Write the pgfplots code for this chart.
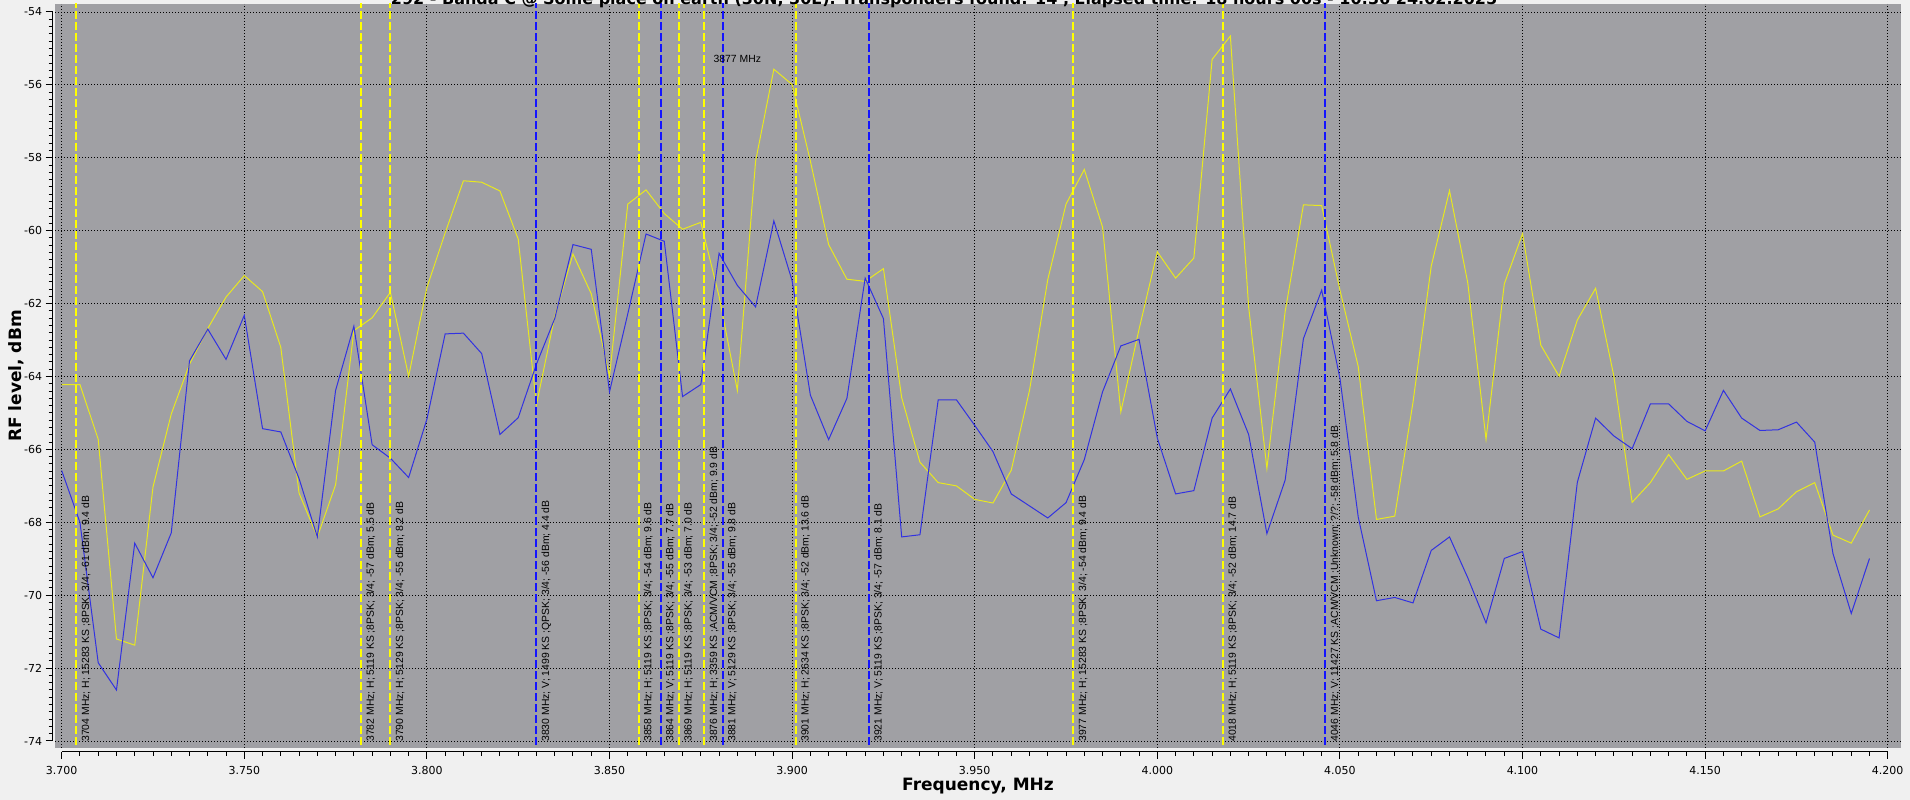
\documentclass[border=0pt]{standalone}
\usepackage{fontspec}
\setmainfont{Liberation Sans}
\newfontfamily\dejavu{DejaVu Sans}
\usepackage{pgfplots}
\pgfplotsset{compat=1.18}
\usepackage{pgfplotstable}
\definecolor{pagebg}{RGB}{240,240,240}
\definecolor{plotbg}{RGB}{160,160,164}
\definecolor{ydata}{RGB}{232,232,30}
\definecolor{bdata}{RGB}{50,50,225}
\definecolor{ymark}{RGB}{255,255,0}
\definecolor{bmark}{RGB}{20,20,255}

\pgfplotstableread{
f y b
3.700 -64.22 -66.58
3.705 -64.22 -68.00
3.710 -65.72 -71.85
3.715 -71.20 -72.60
3.720 -71.37 -68.57
3.725 -67.03 -69.52
3.730 -65.03 -68.29
3.735 -63.66 -63.57
3.740 -62.68 -62.70
3.745 -61.82 -63.53
3.750 -61.23 -62.32
3.755 -61.67 -65.43
3.760 -63.20 -65.52
3.765 -67.20 -66.80
3.770 -68.40 -68.40
3.775 -66.97 -64.38
3.780 -62.74 -62.62
3.785 -62.39 -65.87
3.790 -61.69 -66.24
3.795 -63.99 -66.77
3.800 -61.56 -65.17
3.805 -60.06 -62.83
3.810 -58.63 -62.81
3.815 -58.67 -63.37
3.820 -58.91 -65.59
3.825 -60.23 -65.13
3.830 -64.77 -63.66
3.835 -62.35 -62.41
3.840 -60.64 -60.38
3.845 -61.73 -60.51
3.850 -63.99 -64.42
3.855 -59.27 -62.28
3.860 -58.88 -60.09
3.865 -59.53 -60.29
3.870 -59.96 -64.55
3.875 -59.77 -64.22
3.880 -61.80 -60.62
3.885 -64.38 -61.50
3.890 -58.09 -62.09
3.895 -55.57 -59.73
3.900 -55.99 -61.37
3.905 -58.09 -64.51
3.910 -60.38 -65.73
3.915 -61.33 -64.60
3.920 -61.39 -61.30
3.925 -61.04 -62.41
3.930 -64.58 -68.40
3.935 -66.35 -68.34
3.940 -66.91 -64.64
3.945 -67.00 -64.64
3.950 -67.37 -65.34
3.955 -67.47 -66.06
3.960 -66.57 -67.22
3.965 -64.38 -67.55
3.970 -61.34 -67.88
3.975 -59.27 -67.46
3.980 -58.32 -66.28
3.985 -59.90 -64.42
3.990 -64.97 -63.16
3.995 -62.70 -62.98
4.000 -60.58 -65.69
4.005 -61.30 -67.22
4.010 -60.75 -67.13
4.015 -55.30 -65.14
4.020 -54.66 -64.34
4.025 -62.09 -65.59
4.030 -66.52 -68.31
4.035 -62.22 -66.84
4.040 -59.29 -62.96
4.045 -59.31 -61.63
4.050 -61.63 -64.05
4.055 -63.72 -67.85
4.060 -67.92 -70.15
4.065 -67.83 -70.06
4.070 -64.71 -70.21
4.075 -60.97 -68.77
4.080 -58.90 -68.40
4.085 -61.43 -69.52
4.090 -65.72 -70.76
4.095 -61.46 -68.99
4.100 -60.08 -68.80
4.105 -63.14 -70.93
4.110 -63.99 -71.17
4.115 -62.45 -66.90
4.120 -61.58 -65.14
4.125 -63.99 -65.63
4.130 -67.45 -65.98
4.135 -66.91 -64.75
4.140 -66.14 -64.75
4.145 -66.82 -65.23
4.150 -66.59 -65.49
4.155 -66.59 -64.38
4.160 -66.32 -65.14
4.165 -67.85 -65.48
4.170 -67.63 -65.46
4.175 -67.16 -65.25
4.180 -66.91 -65.80
4.185 -68.35 -68.86
4.190 -68.57 -70.50
4.195 -67.66 -68.99
}\spec

\newcommand{\labfont}{\fontsize{10.4bp}{12bp}\selectfont}
\newcommand{\tickfont}{\dejavu\fontsize{11bp}{13bp}\selectfont}
\tikzset{
  mk/.style={line width=2bp, dash pattern=on 8bp off 3bp},
  lab/.style={rotate=90, anchor=north west, inner sep=0pt, font=\labfont, text=black},
}

\begin{document}
\begin{tikzpicture}[x=1bp,y=1bp]
\fill[pagebg] (0,0) rectangle (1910,800);
\begin{axis}[
  at={(55bp,52bp)}, anchor=south west,
  width=1846bp, height=744bp, scale only axis,
  xmin=3.69817, xmax=4.20364, ymin=-74.19, ymax=-53.78,
  axis background/.style={fill=plotbg},
  axis line style={draw=none},
  xtick={3.7,3.75,3.8,3.85,3.9,3.95,4,4.05,4.1,4.15,4.2},
  ytick={-74,-72,-70,-68,-66,-64,-62,-60,-58,-56,-54},
  xticklabels={}, yticklabels={},
  tick style={draw=none},
  grid=major,
  grid style={black, line width=1bp, dash pattern=on 1bp off 2bp},
]
\addplot[ydata, line width=1bp] table[x=f,y=y]{\spec};
\addplot[bdata, line width=1bp] table[x=f,y=b]{\spec};

\addplot[ymark, mk] coordinates {(3.704,-75) (3.704,-53)};
\addplot[ymark, mk] coordinates {(3.782,-75) (3.782,-53)};
\addplot[ymark, mk] coordinates {(3.790,-75) (3.790,-53)};
\addplot[bmark, mk] coordinates {(3.830,-75) (3.830,-53)};
\addplot[ymark, mk] coordinates {(3.858,-75) (3.858,-53)};
\addplot[bmark, mk] coordinates {(3.864,-75) (3.864,-53)};
\addplot[ymark, mk] coordinates {(3.869,-75) (3.869,-53)};
\addplot[ymark, mk] coordinates {(3.876,-75) (3.876,-53)};
\addplot[bmark, mk] coordinates {(3.881,-75) (3.881,-53)};
\addplot[ymark, mk] coordinates {(3.901,-75) (3.901,-53)};
\addplot[bmark, mk] coordinates {(3.921,-75) (3.921,-53)};
\addplot[ymark, mk] coordinates {(3.977,-75) (3.977,-53)};
\addplot[ymark, mk] coordinates {(4.018,-75) (4.018,-53)};
\addplot[bmark, mk] coordinates {(4.046,-75) (4.046,-53)};

\node[lab] at ([xshift=5bp]axis cs:3.704,-74.02) {3704 MHz; H; 15283 KS ;8PSK; 3/4; -61 dBm; 9.4 dB};
\node[lab] at ([xshift=5bp]axis cs:3.782,-74.02) {3782 MHz; H; 5119 KS ;8PSK; 3/4; -57 dBm; 5.5 dB};
\node[lab] at ([xshift=5bp]axis cs:3.790,-74.02) {3790 MHz; H; 5129 KS ;8PSK; 3/4; -55 dBm; 8.2 dB};
\node[lab] at ([xshift=5bp]axis cs:3.830,-74.02) {3830 MHz; V; 1499 KS ;QPSK; 3/4; -56 dBm; 4.4 dB};
\node[lab] at ([xshift=5bp]axis cs:3.858,-74.02) {3858 MHz; H; 5119 KS ;8PSK; 3/4; -54 dBm; 9.6 dB};
\node[lab] at ([xshift=5bp]axis cs:3.864,-74.02) {3864 MHz; V; 5119 KS ;8PSK; 3/4; -55 dBm; 7.7 dB};
\node[lab] at ([xshift=5bp]axis cs:3.869,-74.02) {3869 MHz; H; 5119 KS ;8PSK; 3/4; -53 dBm; 7.0 dB};
\node[lab] at ([xshift=5bp]axis cs:3.876,-74.02) {3876 MHz; H; 3359 KS ;ACM/VCM ;8PSK; 3/4; -52 dBm; 9.9 dB};
\node[lab] at ([xshift=5bp]axis cs:3.881,-74.02) {3881 MHz; V; 5129 KS ;8PSK; 3/4; -55 dBm; 9.8 dB};
\node[lab] at ([xshift=5bp]axis cs:3.901,-74.02) {3901 MHz; H; 2634 KS ;8PSK; 3/4; -52 dBm; 13.6 dB};
\node[lab] at ([xshift=5bp]axis cs:3.921,-74.02) {3921 MHz; V; 5119 KS ;8PSK; 3/4; -57 dBm; 8.1 dB};
\node[lab] at ([xshift=5bp]axis cs:3.977,-74.02) {3977 MHz; H; 15283 KS ;8PSK; 3/4; -54 dBm; 9.4 dB};
\node[lab] at ([xshift=5bp]axis cs:4.018,-74.02) {4018 MHz; H; 5119 KS ;8PSK; 3/4; -52 dBm; 14.7 dB};
\node[lab] at ([xshift=5bp]axis cs:4.046,-74.02) {4046 MHz; V; 11427 KS ;ACM/VCM ;Unknown; ?/?; -58 dBm; 5.8 dB};
\node[font=\labfont, inner sep=0pt] at (axis cs:3.885,-55.29) {3877 MHz};
\end{axis}

% x axis line with ticks
\begin{axis}[
  at={(61.7bp,48bp)}, anchor=south west,
  width=1826bp, height=10bp, scale only axis,
  xmin=3.7, xmax=4.2, ymin=0, ymax=1,
  axis x line=bottom, axis y line=none,
  axis line style={-, black, line width=1bp},
  xtick={3.7,3.75,3.8,3.85,3.9,3.95,4,4.05,4.1,4.15,4.2},
  xticklabels={3.700,3.750,3.800,3.850,3.900,3.950,4.000,4.050,4.100,4.150,4.200},
  minor x tick num=9,
  tick align=outside, major tick length=7bp, minor tick length=4bp,
  tick style={black, line width=1bp},
  xticklabel style={font=\tickfont, yshift=-4bp},
]
\end{axis}

% y axis line with ticks
\begin{axis}[
  at={(52.7bp,59bp)}, anchor=south west,
  width=10bp, height=729bp, scale only axis,
  xmin=0, xmax=1, ymin=-74, ymax=-54,
  axis y line=left, axis x line=none,
  axis line style={-, black, line width=1bp},
  ytick={-74,-72,-70,-68,-66,-64,-62,-60,-58,-56,-54},
  yticklabels={-74,-72,-70,-68,-66,-64,-62,-60,-58,-56,-54},
  minor y tick num=9,
  tick align=outside, major tick length=7bp, minor tick length=4bp,
  tick style={black, line width=1bp},
  yticklabel style={font=\tickfont},
]
\end{axis}

\node[font=\dejavu\bfseries\fontsize{17bp}{20bp}\selectfont] at (978,14) {Frequency, MHz};
\node[rotate=90, font=\dejavu\bfseries\fontsize{17bp}{20bp}\selectfont] at (16,424) {RF level, dBm};
\node[anchor=base, font=\dejavu\bfseries\fontsize{16bp}{19bp}\selectfont] at (944,795) {292 - Banda C @ Some place on earth (30N, 30E). Transponders found: 14 , Elapsed time: 18 hours 00s - 10:36 24.02.2025};

\pgfresetboundingbox
\useasboundingbox (0,0) rectangle (1910,800);
\end{tikzpicture}
\end{document}
